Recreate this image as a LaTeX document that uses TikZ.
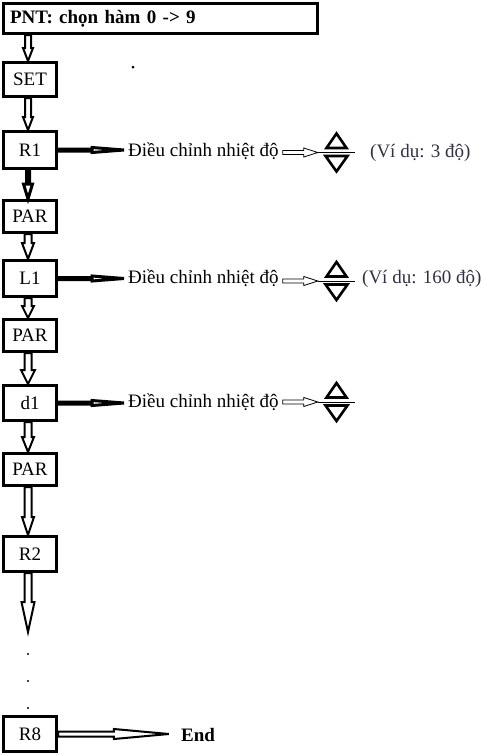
\documentclass[tikz,border=0pt]{standalone}
\usepackage{fontspec}
\setmainfont{Liberation Serif}
\usetikzlibrary{calc,positioning}
\definecolor{hintgray}{HTML}{303046}
% khối mũi tên: [kiểu] {từ} {đến} {nửa thân} {nửa đầu} {dài đầu}
\newcommand{\blockarr}[6][]{%
  \coordinate (ba-s) at (#2);
  \coordinate (ba-e) at (#3);
  \coordinate (ba-h) at ($(ba-e)!#6!(ba-s)$);
  \draw[barr,#1] ($(ba-s)!#4!90:(ba-e)$) -- ($(ba-h)!#4!90:(ba-e)$)
    -- ($(ba-h)!#5!90:(ba-e)$) -- (ba-e) -- ($(ba-h)!#5!-90:(ba-e)$)
    -- ($(ba-h)!#4!-90:(ba-e)$) -- ($(ba-s)!#4!-90:(ba-e)$) -- cycle;
}
\tikzset{
  % hộp
  box/.style={draw,line width=3pt,minimum width=53pt,inner sep=0pt,
              font=\fontsize{19}{21}\selectfont},
  lbl/.style={inner sep=4pt,anchor=base west,font=\fontsize{19}{22}\selectfont},
  hint/.style={lbl,text=hintgray},
  keyline/.style={minimum width=37pt,minimum height=0pt,inner sep=0pt},
  % mũi tên
  barr/.style={draw=black,fill=white,line width=2pt,line join=miter,miter limit=6},
  solid arr/.style={line width=3pt},
  side/.style={line width=3pt},
  thinarr/.style={line width=0.8pt},
  tri/.style={draw=black,fill=white,line width=2.6pt,line join=miter},
}
\begin{document}
\begin{tikzpicture}[x=1pt,y=-1pt]
\useasboundingbox (0,0) rectangle (483,755);
  \node[box,minimum width=314pt,minimum height=30pt,text width=301pt,align=left,
        font=\fontsize{19}{22}\selectfont\bfseries] (pnt) at (160.5,18.5) {PNT: chọn hàm 0 -> 9};
  \node[box,minimum height=34pt] (set) at (30,79.5) {SET};
  \node[box,minimum height=37pt] (r1) at (30,150) {R1};
  \node[box,minimum height=32pt] (par1) at (30,216.5) {PAR};
  \node[box,minimum height=36pt] (l1) at (30,278.5) {L1};
  \node[box,minimum height=32pt] (par2) at (30,335.5) {PAR};
  \node[box,minimum height=35pt] (d1) at (30,403) {d1};
  \node[box,minimum height=32pt] (par3) at (30,469.5) {PAR};
  \node[box,minimum height=35pt] (r2) at (30,554) {R2};
  \node[box,minimum height=35pt] (r8) at (30,734) {R8};
  \coordinate (r2tip) at (28,632);
  \fill (133,67) circle (1.5);
  \foreach \y in {654,681,708} \fill (28,\y) circle (1.2);
  % cột chính
  \blockarr{[xshift=-2pt]pnt.south -| set.south}{[xshift=-2pt]set.north}{3pt}{5pt}{13pt}
  \blockarr{[xshift=-2pt]set.south}{[xshift=-2pt]r1.north}{3pt}{5pt}{13pt}
  \blockarr[solid arr]{[xshift=-2pt]r1.south}{[xshift=-2pt]par1.north}{1.5pt}{4.5pt}{15pt}
  \blockarr{[xshift=-2pt]par1.south}{[xshift=-2pt]l1.north}{3.5pt}{6pt}{16pt}
  \blockarr{[xshift=-2pt]l1.south}{[xshift=-2pt]par2.north}{3.5pt}{6pt}{12pt}
  \blockarr{[xshift=-2pt]par2.south}{[xshift=-2pt]d1.north}{3.5pt}{7pt}{14pt}
  \blockarr{[xshift=-2pt]d1.south}{[xshift=-2pt]par3.north}{3.5pt}{6pt}{15pt}
  \blockarr{[xshift=-2pt]par3.south}{[xshift=-2pt]r2.north}{3.5pt}{6pt}{18pt}
  \blockarr{[xshift=-2pt]r2.south}{r2tip}{3.5pt}{6.5pt}{30pt}
  % các dòng chỉnh
  \node[lbl] (r1txt) at (124,156) {Điều chỉnh nhiệt độ};
  \node[lbl] (l1txt) at (124,283) {Điều chỉnh nhiệt độ};
  \node[lbl] (d1txt) at (124,407) {Điều chỉnh nhiệt độ};
  \node[keyline] (r1key) at (336.5,152.5) {};
  \node[keyline] (l1key) at (336.5,281) {};
  \node[keyline] (d1key) at (336.5,402) {};
  \node[hint] at (366,157) {(Ví dụ: 3 độ)};
  \node[hint] at (358,283) {(Ví dụ: 160 độ)};
  \blockarr[side]{r1.east}{r1.east -| r1txt.west}{1pt}{2.5pt}{32pt}
  \blockarr[side]{l1.east}{l1.east -| l1txt.west}{1pt}{2.5pt}{32pt}
  \blockarr[side]{d1.east}{d1.east -| d1txt.west}{1pt}{2.5pt}{32pt}
  \foreach \t/\k in {r1txt/r1key,l1txt/l1key,d1txt/d1key}{
    \blockarr[thinarr]{\t.east |- \k.west}{\k.west}{2pt}{4.5pt}{14pt}
    \draw[line width=0.8pt] (\k.west) -- (\k.east);
    \draw[tri] ($(\k)+(-10,-4.5)$) -- ++(20,0) -- ++(-10,-14.5) -- cycle;
    \draw[tri] ($(\k)+(-11,3.5)$) -- ++(22,0) -- ++(-11,15.5) -- cycle;
  }
  % kết thúc
  \node[lbl,anchor=base,font=\fontsize{19}{22}\selectfont\bfseries] (endtxt) at (198,741) {End};
  \coordinate (endtip) at ([xshift=-8pt]endtxt.west);
  \blockarr{r8.east}{r8.east -| endtip}{2.5pt}{5pt}{55pt}
\end{tikzpicture}
\end{document}
